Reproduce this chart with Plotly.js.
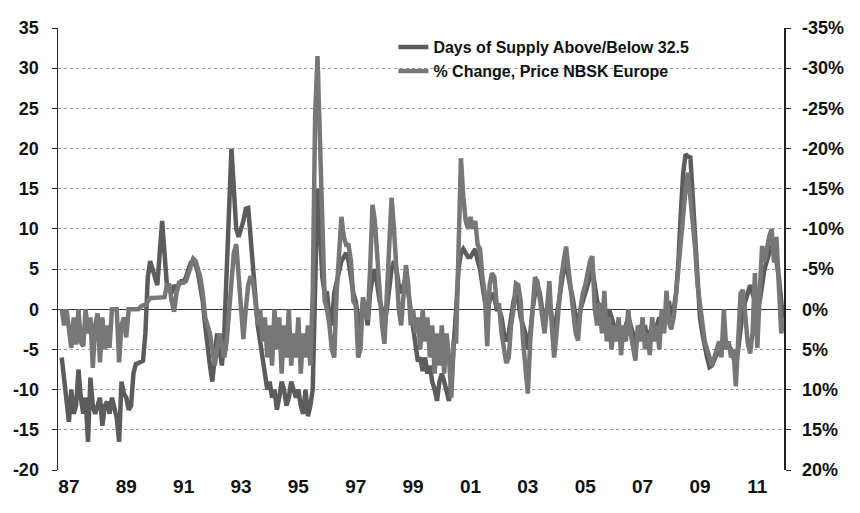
<!DOCTYPE html>
<html>
<head>
<meta charset="utf-8">
<script src="https://cdn.plot.ly/plotly-3.0.1.min.js"></script>
<style>
html,body{margin:0;padding:0;background:#fff;}
#chart{width:860px;height:513px;}
</style>
</head>
<body>
<div id="chart"></div>
<script>
// Monthly observations, first month = October 1986 (decimal year)
const firstMonth = 1986.75;

// Days of supply above/below 32.5 (left axis)
const supplyDays = [
  -6, -9, -12,
  -14, -10, -13, -12, -7.5, -11, -13, -11, -16.5, -8.5, -12, -13,
  -12, -11, -14.5, -12, -11.5, -13, -11, -12.5, -13.5, -16.5, -9, -10.5,
  -11, -12.5, -12, -8, -6.8, -6.7, -6.5, -6.4, -3, 4, 6, 5,
  4, 3, 7, 11, 7, 3, 2.5, 2, 3, 2.5, 3, 3.5,
  3.5, 4, 5, 5.8, 6, 5.5, 4.5, 3, 1, -2, -5, -7,
  -9, -6, -3, -5, -7, -3, 4, 12, 20, 15, 10, 9,
  10, 11, 12.5, 12.6, 9, 5, 1, -2, -4, -6, -8, -10,
  -9, -11, -10, -12.5, -11, -9, -10, -12, -11, -9, -10, -11,
  -10, -12, -13, -10, -13.3, -12, -10, 2, 15, 10, 4, 2,
  2, -1, -2, 2, 3.5, 5, 6, 6.5, 7, 6, 4, 2,
  1, -1, -3, 1, 0, -2, 2, 4, 5, 3, 1, 0,
  -2, 0, 3, 5, 6, 5, 3, 2, 3, 4, 2, 0,
  -2, -4, -6.5, -6, -7.7, -6, -8, -7, -9, -10, -11.4, -9,
  -8, -9, -10, -11.4, -9, -5, 0, 5, 7, 7.5, 7, 6.5,
  6.5, 7, 7.5, 6, 5, 3, 1, 0, 1, 2, 1.5, 0,
  0, -1, -3, -4, -3, -1, 1, 2, 1, -1, -2, -3,
  -5, -3, 0, 2, 3, 2, 0, -1, 0, 1, -1, -3,
  -1, 1, 3, 5, 5.5, 4, 3, 1, -1, -2, 0, 1,
  2, 3, 4, 5, 3, 1, 0, -1, -2, -1, 0, -1,
  -2, -3, -2, -3, -4, -2, -1, -2, -3, -4, -3, -2,
  -3, -2, -4, -3, -2, -3, -2, -1, -2, -1, 0, 1,
  -1, 0, 2, 6, 12, 17, 19.3, 19, 18.9, 14, 8, 3,
  -1, -3, -4.7, -6, -7.2, -7, -6.3, -5.5, -5, -4.5, -4, -4.5,
  -4.5, -5, -6, -7, -5, -2, 0, 1, 2, 3, 2, 1,
  0, 1, 3, 5, 6, 7, 8, 7, 6, 4, 1, -2
];

// % change, price NBSK Europe (right axis, inverted)
const priceChange = [
  0, 2, 0,
  3, 4.8, 1, 4.4, 0, 4.1, 4.6, 0, 3, 1, 7.3, 2,
  0.5, 6.6, 1, 5, 2, 4.8, 0, 0, 0, 6.6, 2, 1,
  3.5, 0, 0, 0, 0, 0, -0.3, -0.5, -0.5, -1, -1.4, -1.4,
  -1.4, -1.4, -1.4, -1.4, -1.5, -3, -3, -1, 0.3, -2, -3.3, -3.3,
  -3.3, -3.5, -4.5, -5.5, -6.3, -6, -5, -4, -2, 1, 2, 3,
  5, 7, 5, 3, 4.5, 6, 4, 0, -4, -7, -8.1, -4,
  1, 3.7, 0, -3, -4.1, -3.5, -1, 2, 0, 4, 1, 6,
  2, 7, 0, 5, 1, 8, 2, 6, 0, 7, 3, 6,
  1, 8, 3, 6, 2, 7, -2, -24, -31.5, -20, -8, -1,
  0, 2, 5, 6, -2, -8, -11.5, -9, -8, -8, -6, -1,
  -0.5, 6, 5, -1.5, 0, 1.3, -5, -13, -11, -6, -2, 2,
  4.3, -1, -8, -13.9, -10, -4, 0, 2, -2, -5.5, -3, 2,
  0, 3, 1, 5, 0, 4, 1, 6, 2, 8, 3, 7,
  2, 8, 3, 6, 11, 4, 4, -6, -18.8, -14, -11, -10,
  -11.5, -10, -11, -8, -7.5, -4, -2, 4.6, -3, -4.5, -4, -0.5,
  -0.5, 3, 5, 6.7, 6, 2, 0, -3.2, -3, -1, 4, 7,
  10.5, 4, -1, -4, -3.5, -1, 1, 3, 0, -3.5, 2, 6,
  3, -1, -4, -6, -7.8, -5, -2, 1, 3, 3.9, 0, -2,
  -3, -4.5, -6, -6.6, 0, 2, -0.8, 3, -2.3, 4, 1, 5,
  2, 4, 1, 5.7, 2, 4, 0, 3, 5, 6.4, 2, 4,
  1, 5, 3, 5.7, 1, 4, 2, 5, 0, 3, -2.3, 1.6,
  2.5, 1, -1.8, -5, -9, -12, -15, -17, -14, -11.8, -7.5, -3,
  -0.5, 2, 4, 5, 6, 7, 6, 5, 4, 6, 0, 5,
  4, 6, 5, 9.6, 3, -2, -2.4, 1, 4.2, 5.5, 3, -4.5,
  4.8, -2, -7.9, -5.9, -8, -9.1, -10, -5.8, -9, -2.4, 3, 1
];

const seriesNames = ['Days of Supply Above/Below 32.5', '% Change, Price NBSK Europe'];

const yearTicks = [1987, 1989, 1991, 1993, 1995, 1997, 1999, 2001, 2003, 2005, 2007, 2009, 2011];
const yearLabels = ['87', '89', '91', '93', '95', '97', '99', '01', '03', '05', '07', '09', '11'];

const leftTicks = [-20, -15, -10, -5, 0, 5, 10, 15, 20, 25, 30, 35];
const leftLabels = ['-20', '-15', '-10', '-5', '0', '5', '10', '15', '20', '25', '30', '35'];

const rightTicks = [20, 15, 10, 5, 0, -5, -10, -15, -20, -25, -30, -35];
const rightLabels = ['20%', '15%', '10%', '5%', '0%', '-5%', '-10%', '-15%', '-20%', '-25%', '-30%', '-35%'];

const months = supplyDays.map((_, i) => firstMonth + i / 12);

const FONT = 'Liberation Sans, Arial, Helvetica, sans-serif';

const traces = [
  {
    x: months, y: supplyDays, name: seriesNames[0], type: 'scatter', mode: 'lines',
    line: {color: '#5c5c5c', width: 4.5}, yaxis: 'y'
  },
  {
    x: months, y: priceChange, name: seriesNames[1], type: 'scatter', mode: 'lines',
    line: {color: '#777777', width: 4.5}, yaxis: 'y2'
  }
];

const layout = {
  width: 860, height: 513,
  margin: {l: 58, r: 76, t: 28, b: 43},
  paper_bgcolor: '#ffffff', plot_bgcolor: '#ffffff',
  showlegend: true,
  legend: {
    x: 0.462, y: 0.995, xanchor: 'left', yanchor: 'top',
    bgcolor: 'rgba(0,0,0,0)', itemwidth: 30, tracegroupgap: 0,
    font: {family: FONT, size: 16, color: '#111', weight: 700}
  },
  xaxis: {
    range: [1986.62, 2011.93],
    tickmode: 'array', tickvals: yearTicks, ticktext: yearLabels,
    showgrid: false, zeroline: false, showline: false, ticks: '',
    ticklabelstandoff: 3,
    tickfont: {family: FONT, size: 19, color: '#111', weight: 700}
  },
  yaxis: {
    range: [-20, 35],
    tickmode: 'array', tickvals: leftTicks, ticktext: leftLabels,
    showgrid: true, gridcolor: '#9a9a9a', griddash: 'dot', gridwidth: 1,
    zeroline: true, zerolinecolor: '#333333', zerolinewidth: 1.5,
    showline: true, linecolor: '#222', linewidth: 1.5,
    ticks: 'outside', ticklen: 5, tickcolor: '#222',
    ticklabelstandoff: 9,
    tickfont: {family: FONT, size: 18, color: '#111', weight: 700}
  },
  yaxis2: {
    overlaying: 'y', side: 'right',
    range: [20, -35],
    tickmode: 'array', tickvals: rightTicks, ticktext: rightLabels,
    showgrid: false, zeroline: false,
    showline: true, linecolor: '#222', linewidth: 1.5,
    ticks: 'outside', ticklen: 5, tickcolor: '#222',
    ticklabelstandoff: 8,
    tickfont: {family: FONT, size: 18, color: '#111', weight: 700}
  }
};

Plotly.newPlot('chart', traces, layout, {displayModeBar: false, staticPlot: true});
</script>
</body>
</html>
